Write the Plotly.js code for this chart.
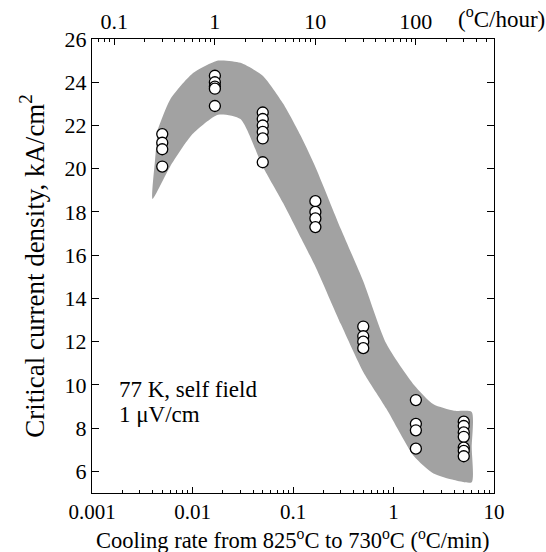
<!DOCTYPE html>
<html>
<head>
<meta charset="utf-8">
<script src="https://cdn.plot.ly/plotly-3.0.1.min.js"></script>
<style>html,body{margin:0;padding:0;background:#fff;}#chart{width:546px;height:552px;}</style>
</head>
<body>
<div id="chart"></div>
<script>
// Cooling rates (°C/min) of the sample groups
const rates = [0.005, 0.0167, 0.05, 0.167, 0.5, 1.67, 5];
// Critical current density (kA/cm^2) for each group
const jc_0005 = [21.6, 21.2, 20.9, 20.1];
const jc_0017 = [24.3, 24.0, 23.8, 23.7, 22.9];
const jc_005  = [22.6, 22.3, 22.0, 21.7, 21.4, 20.3];
const jc_017  = [18.5, 18.0, 17.7, 17.3];
const jc_05   = [12.7, 12.25, 12.0, 11.7];
const jc_167  = [9.3, 8.2, 7.9, 7.05];
const jc_5    = [8.3, 8.1, 7.8, 7.6, 7.1, 6.95, 6.7];
const groups = [jc_0005, jc_0017, jc_005, jc_017, jc_05, jc_167, jc_5];

// Shaded scatter band (upper edge left->right, right end, lower edge, left end)
const bandUpperX = [0.0045, 0.006, 0.01, 0.018, 0.03, 0.05, 0.08, 0.12, 0.17, 0.3, 0.5, 0.85, 1.6, 2.5, 4, 6];
const bandUpperY = [21.8, 23.2, 24.4, 25.0, 24.9, 24.3, 23.0, 21.5, 20.0, 17.2, 14.8, 11.9, 10.0, 9.1, 8.8, 8.75];
const bandRightY = [7.1];
const bandLowerX = [0.004, 0.006, 0.01, 0.018, 0.03, 0.05, 0.08, 0.12, 0.17, 0.3, 0.5, 0.85, 1.6, 2.5, 4, 6];
const bandLowerY = [18.6, 20.1, 21.6, 22.5, 22.3, 20.1, 18.4, 16.8, 15.4, 12.8, 10.6, 8.9, 6.7, 5.9, 5.6, 5.5];
const bandLeftX = [0.0042];
const bandLeftY = [20.2];

// Tick labels
const bottomTicks = [0.001, 0.01, 0.1, 1, 10];
const bottomTickText = ['0.001', '0.01', '0.1', '1', '10'];
const topTicks = [0.1, 1, 10, 100];
const topTickText = ['0.1', '1', '10', '100'];
const yTicks = [6, 8, 10, 12, 14, 16, 18, 20, 22, 24, 26];

const MIN_PER_HOUR = 60;

const px = [], py = [];
groups.forEach((g, i) => g.forEach(v => { px.push(rates[i]); py.push(v); }));

const polyX = bandUpperX
  .concat([bandUpperX[bandUpperX.length - 1]])
  .concat(bandLowerX.slice().reverse())
  .concat(bandLeftX);
const polyY = bandUpperY
  .concat(bandRightY)
  .concat(bandLowerY.slice().reverse())
  .concat(bandLeftY);

const font = {family: 'Liberation Serif', size: 23, color: '#000'};
const xTitleFont = {family: 'Liberation Serif', size: 22.5, color: '#000'};
const tickFont = {family: 'Liberation Serif', size: 22, color: '#000'};
const xTickFont = {family: 'Liberation Serif', size: 21, color: '#000'};
const yTitleFont = {family: 'Liberation Serif', size: 27, color: '#000'};

const traces = [
  {x: polyX, y: polyY, type: 'scatter', mode: 'lines', fill: 'toself',
   fillcolor: 'rgb(162,162,162)', line: {width: 0, shape: 'spline', smoothing: 0.6},
   hoverinfo: 'skip', showlegend: false},
  {x: px, y: py, type: 'scatter', mode: 'markers',
   marker: {symbol: 'circle', size: 11, color: '#fff', line: {color: '#000', width: 1.3}},
   showlegend: false},
  {x: px.map(v => v * MIN_PER_HOUR), y: py, xaxis: 'x2', type: 'scatter', mode: 'markers',
   marker: {opacity: 0}, hoverinfo: 'skip', showlegend: false}
];

const layout = {
  width: 546, height: 552,
  margin: {l: 92, r: 52, t: 39, b: 59},
  paper_bgcolor: '#fff', plot_bgcolor: '#fff',
  font: font,
  showlegend: false,
  xaxis: {
    type: 'log', range: [-3, 1],
    tickvals: bottomTicks, ticktext: bottomTickText,
    ticks: 'inside', ticklen: 6, tickcolor: '#000', tickwidth: 1,
    minor: {ticks: 'inside', ticklen: 3, dtick: 'D1', tickcolor: '#000', showgrid: false},
    showline: true, linecolor: '#000', linewidth: 1, mirror: false,
    showgrid: false, zeroline: false,
    tickfont: xTickFont
  },
  xaxis2: {
    type: 'log', overlaying: 'x', side: 'top', anchor: 'y',
    range: [-3 + Math.log10(MIN_PER_HOUR), 1 + Math.log10(MIN_PER_HOUR)],
    tickvals: topTicks, ticktext: topTickText,
    ticks: 'inside', ticklen: 6, tickcolor: '#000', tickwidth: 1,
    minor: {ticks: 'inside', ticklen: 3, dtick: 'D1', tickcolor: '#000', showgrid: false},
    showline: true, linecolor: '#000', linewidth: 1,
    showgrid: false, zeroline: false,
    tickfont: tickFont
  },
  yaxis: {
    range: [5, 26], tickvals: yTicks,
    ticks: 'inside', ticklen: 7, tickcolor: '#000', tickwidth: 1,
    showline: true, linecolor: '#000', linewidth: 1, mirror: 'ticks',
    showgrid: false, zeroline: false,
    tickfont: tickFont,
    title: {text: 'Critical current density, kA/cm<sup>2</sup>', font: yTitleFont, standoff: 12}
  },
  annotations: [
    {xref: 'paper', yref: 'paper', x: 0.5, y: -0.101, xanchor: 'center', yanchor: 'middle',
     text: 'Cooling rate from 825<sup>o</sup>C to 730<sup>o</sup>C (<sup>o</sup>C/min)', showarrow: false, font: xTitleFont},
    {xref: 'paper', yref: 'paper', x: 0.062, y: 0.227, xanchor: 'left', yanchor: 'middle',
     text: '77 K, self field', showarrow: false, font: font},
    {xref: 'paper', yref: 'paper', x: 0.062, y: 0.172, xanchor: 'left', yanchor: 'middle',
     text: '1 \u03bcV/cm', showarrow: false, font: font},
    {xref: 'paper', yref: 'paper', x: 0.905, y: 1.0, xanchor: 'left', yanchor: 'bottom', yshift: 5,
     text: '(<sup>o</sup>C/hour)', showarrow: false, font: font}
  ]
};

Plotly.newPlot('chart', traces, layout, {displayModeBar: false, staticPlot: true});
</script>
</body>
</html>
